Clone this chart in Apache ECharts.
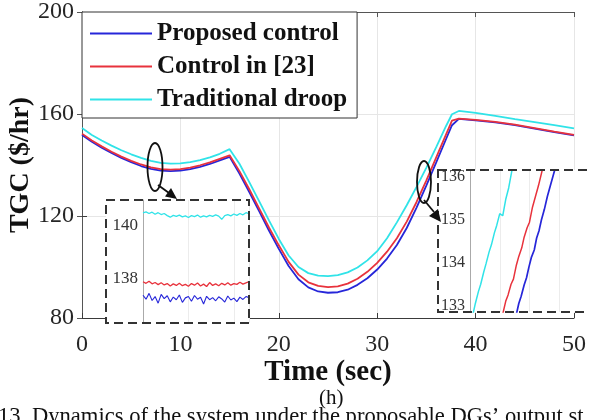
<!DOCTYPE html>
<html>
<head>
<meta charset="utf-8">
<script src="https://cdn.jsdelivr.net/npm/echarts@6/dist/echarts.min.js"></script>
<style>
  html, body { margin: 0; padding: 0; background: #fff; }
  #main { width: 589px; height: 420px; }
</style>
</head>
<body>
<div id="main"></div>
<script>
// main curves (time in sec, TGC in $/hr)
var times = [0, 1, 2, 3, 4, 5, 6, 7, 8, 9, 10, 11, 12, 13, 14, 15,
  16, 17, 18, 19, 20, 21, 22, 23, 24, 25, 26, 27, 28, 29, 30, 31, 32, 33, 34, 35, 36, 37,
  37.6, 38.3, 40, 42, 44, 46, 48, 50];
var proposed = [151.8, 149.1, 146.8, 144.7, 142.8, 141.1, 139.6, 138.5, 137.8, 137.6, 137.8, 138.4, 139.3, 140.4, 141.8, 143.2,
  136.6, 129.4, 121.9, 114.3, 107.1, 100.4, 95.2, 92, 90.4, 89.9, 90.1, 91.1, 93, 95.6, 99, 103.3, 108.6, 115.3, 123.3, 132, 141, 150.2,
  155.6, 158.1, 157.5, 156.7, 155.6, 154.3, 152.9, 151.6];
var ref23 = [152.3, 149.6, 147.3, 145.2, 143.3, 141.6, 140.2, 139.1, 138.4, 138.2, 138.4, 139.0, 139.9, 141.0, 142.4, 143.8,
  137.6, 130.5, 123, 115.5, 108.5, 102, 97, 94, 92.6, 92.1, 92.4, 93.5, 95.4, 98.1, 101.6, 106, 111.3, 117.8, 125.5, 134, 143, 152,
  157.4, 158.2, 157.7, 156.9, 155.8, 154.5, 153.1, 151.8];
var droop = [154.5, 151.8, 149.6, 147.6, 145.8, 144.2, 142.8, 141.6, 140.8, 140.5, 140.6, 141.1, 141.9, 143.0, 144.4, 146.2,
  140.5, 133.3, 125.8, 118.3, 111, 104.5, 100, 97.6, 96.6, 96.4, 96.8, 97.9, 99.8, 102.6, 106.2, 111.3, 117.5, 124.2, 131.4, 139, 147, 155.3,
  159.9, 161.2, 160.4, 159.3, 158, 156.8, 155.6, 154.4];

// left zoom (steady part around t = 8 s)
var zoomLeftT = [6.0, 6.1, 6.2, 6.3, 6.4, 6.5, 6.6, 6.7, 6.8, 6.9, 7.0, 7.1, 7.2, 7.3, 7.4, 7.5, 7.6, 7.7,
  7.8, 7.9, 8.0, 8.1, 8.2, 8.3, 8.4, 8.5, 8.6, 8.7, 8.8, 8.9, 9.0, 9.1, 9.2, 9.3, 9.4, 9.5];
var zoomLeftDroop = [140.46, 140.50, 140.44, 140.49, 140.41, 140.47, 140.40, 140.44, 140.36, 140.30, 140.37, 140.33, 140.38, 140.31, 140.35, 140.29, 140.36, 140.32,
  140.38, 140.30, 140.35, 140.31, 140.37, 140.33, 140.39, 140.34, 140.22, 140.36, 140.40, 140.35, 140.42, 140.37, 140.44, 140.39, 140.47, 140.43];
var zoomLeftRef = [137.86, 137.80, 137.88, 137.78, 137.83, 137.75, 137.82, 137.74, 137.79, 137.70, 137.78, 137.72, 137.80, 137.71, 137.76, 137.69, 137.79, 137.73,
  137.81, 137.70, 137.77, 137.68, 137.83, 137.72, 137.78, 137.71, 137.80, 137.74, 137.82, 137.73, 137.79, 137.76, 137.84, 137.77, 137.82, 137.86];
var zoomLeftProp = [137.35, 137.20, 137.42, 137.15, 137.30, 137.05, 137.38, 137.22, 137.33, 137.10, 137.28, 137.18, 137.36, 137.08, 137.25, 137.30, 137.12, 137.34,
  137.20, 137.27, 137.02, 137.31, 137.18, 137.26, 137.14, 137.29, 137.21, 137.09, 137.32, 137.17, 137.24, 137.11, 137.28, 137.19, 137.30, 137.26];

// right zoom (rising part around t = 34.5 s)
var zoomRightDroopT = [34.05, 34.09, 34.14, 34.18, 34.23, 34.27, 34.32, 34.36, 34.41, 34.45, 34.50, 34.55, 34.60, 34.65, 34.71];
var zoomRightDroopV = [132.80, 133.05, 133.32, 133.50, 133.78, 133.98, 134.25, 134.42, 134.70, 134.88, 135.15, 135.10, 135.48, 135.75, 136.20];
var zoomRightRefT = [34.55, 34.60, 34.64, 34.69, 34.73, 34.78, 34.82, 34.87, 34.91, 34.96, 35.00, 35.05, 35.10, 35.15, 35.22];
var zoomRightRefV = [132.80, 133.10, 133.25, 133.50, 133.62, 133.95, 134.15, 134.35, 134.60, 134.82, 134.95, 135.30, 135.55, 135.80, 136.20];
var zoomRightPropT = [34.78, 34.82, 34.86, 34.91, 34.95, 34.99, 35.03, 35.08, 35.12, 35.16, 35.20, 35.25, 35.30, 35.35, 35.43];
var zoomRightPropV = [132.80, 133.05, 133.22, 133.48, 133.65, 133.90, 134.12, 134.30, 134.58, 134.75, 135.00, 135.25, 135.55, 135.80, 136.20];

var names = ['Proposed control', 'Control in [23]', 'Traditional droop'];
var colors = ['#2626d9', '#e8323c', '#30e3e8'];

function pairs(t, v) {
  return t.map(function (x, i) { return [x, v[i]]; });
}

var serif = 'Liberation Serif';
var axisColor = '#3a3a3a';

var chart = echarts.init(document.getElementById('main'));

function line(name, idx, t, v, color, w, z) {
  return {
    name: name,
    type: 'line',
    xAxisIndex: idx,
    yAxisIndex: idx,
    data: pairs(t, v),
    symbol: 'none',
    clip: true,
    z: z,
    lineStyle: { color: color, width: w },
    itemStyle: { color: color },
    animation: false
  };
}

chart.setOption({
  animation: false,
  backgroundColor: '#fff',
  grid: [
    { left: 82, top: 12, width: 492, height: 306, outerBoundsMode: 'none' },
    { left: 143, top: 200, width: 106, height: 123, outerBoundsMode: 'none' },
    { left: 470, top: 170, right: 0, height: 142, outerBoundsMode: 'none' }
  ],
  legend: {
    data: names,
    orient: 'vertical',
    left: 82,
    top: 12,
    padding: [9, 10, 6, 8],
    itemGap: 8,
    itemWidth: 62,
    itemHeight: 2,
    icon: 'rect',
    backgroundColor: '#fff',
    borderColor: '#333',
    borderWidth: 1,
    z: 6,
    textStyle: { fontFamily: serif, fontWeight: 'bold', fontSize: 25, color: '#111' }
  },
  xAxis: [
    {
      type: 'value', gridIndex: 0, min: 0, max: 50, interval: 10,
      name: 'Time (sec)', nameLocation: 'middle', nameGap: 40, nameMoveOverlap: false,
      nameTextStyle: { fontFamily: serif, fontWeight: 'bold', fontSize: 29, color: '#111' },
      axisLine: { lineStyle: { color: axisColor } },
      axisTick: { inside: true, length: 5, lineStyle: { color: axisColor } },
      axisLabel: { fontFamily: serif, fontSize: 24, color: '#262626', margin: 15 },
      splitLine: { show: true, lineStyle: { color: '#e6e6e6' } }
    },
    {
      type: 'value', gridIndex: 0, min: 0, max: 50, interval: 10, position: 'top',
      axisLine: { lineStyle: { color: '#555' } },
      axisTick: { inside: true, length: 5, lineStyle: { color: '#555' } },
      axisLabel: { show: false },
      splitLine: { show: false }
    },
    {
      type: 'value', gridIndex: 1, min: 6, max: 9.5, interval: 1.5, z: 5,
      axisLine: { show: false }, axisTick: { show: false }, axisLabel: { show: false },
      splitLine: { show: true, lineStyle: { color: '#ececec' } }
    },
    {
      type: 'value', gridIndex: 2, min: 34, max: 36, interval: 0.5, z: 5,
      axisLine: { show: false }, axisTick: { show: false }, axisLabel: { show: false },
      splitLine: { show: true, lineStyle: { color: '#ececec' } }
    }
  ],
  yAxis: [
    {
      type: 'value', gridIndex: 0, min: 80, max: 200, interval: 40,
      name: 'TGC ($/hr)', nameLocation: 'middle', nameGap: 47, nameMoveOverlap: false,
      nameTextStyle: { fontFamily: serif, fontWeight: 'bold', fontSize: 28, color: '#111' },
      axisLine: { show: true, lineStyle: { color: axisColor } },
      axisTick: { show: true, inside: true, length: 5, lineStyle: { color: axisColor } },
      axisLabel: { fontFamily: serif, fontSize: 24, color: '#262626', margin: 8 },
      splitLine: { show: true, lineStyle: { color: '#e6e6e6' } }
    },
    {
      type: 'value', gridIndex: 0, min: 80, max: 200, interval: 40, position: 'right',
      axisLine: { show: true, lineStyle: { color: '#555' } },
      axisTick: { show: true, inside: true, length: 5, lineStyle: { color: '#555' } },
      axisLabel: { show: false },
      splitLine: { show: false }
    },
    {
      type: 'value', gridIndex: 1, min: 136.3, max: 140.95, z: 5,
      axisLine: { show: true, lineStyle: { color: '#aaa' } },
      axisTick: { show: false },
      axisLabel: { fontFamily: serif, fontSize: 17, color: '#333', margin: 5, customValues: [138, 140] },
      splitLine: { show: false }
    },
    {
      type: 'value', gridIndex: 2, min: 132.85, max: 136.17, z: 5,
      axisLine: { show: true, lineStyle: { color: '#aaa' } },
      axisTick: { show: false },
      axisLabel: { fontFamily: serif, fontSize: 16, color: '#333', margin: 5, customValues: [133, 134, 135, 136] },
      splitLine: { show: false }
    }
  ],
  series: [
    line(names[0], 0, times, proposed, colors[0], 1.8, 2),
    line(names[1], 0, times, ref23, colors[1], 1.8, 2),
    line(names[2], 0, times, droop, colors[2], 1.8, 2),
    line(names[2], 2, zoomLeftT, zoomLeftDroop, colors[2], 1.3, 5),
    line(names[1], 2, zoomLeftT, zoomLeftRef, colors[1], 1.3, 5),
    line(names[0], 2, zoomLeftT, zoomLeftProp, colors[0], 1.1, 5),
    line(names[2], 3, zoomRightDroopT, zoomRightDroopV, colors[2], 1.5, 5),
    line(names[1], 3, zoomRightRefT, zoomRightRefV, colors[1], 1.5, 5),
    line(names[0], 3, zoomRightPropT, zoomRightPropV, colors[0], 1.7, 5)
  ],
  graphic: [
    // inset backgrounds
    { type: 'rect', z: 3, shape: { x: 106, y: 200, width: 143, height: 123 }, style: { fill: '#fff' } },
    { type: 'rect', z: 3, shape: { x: 438, y: 170, width: 170, height: 142 }, style: { fill: '#fff' } },
    // dashed frames
    { type: 'rect', z: 10, shape: { x: 106, y: 200, width: 143, height: 123 },
      style: { fill: null, stroke: '#333', lineWidth: 2, lineDash: [9, 5] } },
    { type: 'rect', z: 10, shape: { x: 438, y: 170, width: 170, height: 142 },
      style: { fill: null, stroke: '#333', lineWidth: 2, lineDash: [9, 5] } },
    // ellipses + arrows
    { type: 'ellipse', z: 10, shape: { cx: 155, cy: 167, rx: 7.5, ry: 24 },
      style: { fill: null, stroke: '#111', lineWidth: 1.8 } },
    { type: 'line', z: 10, shape: { x1: 158, y1: 185, x2: 169, y2: 193 }, style: { stroke: '#111', lineWidth: 1.8 } },
    { type: 'polygon', z: 10, shape: { points: [[177, 199], [165, 196.5], [171, 188]] }, style: { fill: '#111' } },
    { type: 'ellipse', z: 10, shape: { cx: 424, cy: 182, rx: 7, ry: 21 },
      style: { fill: null, stroke: '#111', lineWidth: 1.8 } },
    { type: 'line', z: 10, shape: { x1: 424, y1: 200, x2: 434, y2: 212 }, style: { stroke: '#111', lineWidth: 1.8 } },
    { type: 'polygon', z: 10, shape: { points: [[441, 222], [429, 216], [438, 209]] }, style: { fill: '#111' } },
    // caption
    { type: 'text', z: 10, left: 319, top: 388,
      style: { text: '(h)', font: '21px "Liberation Serif"', fill: '#111' } },
    { type: 'text', z: 10, left: -2, top: 406,
      style: { text: '13. Dynamics of the system under the proposable DGs\u2019 output st', font: '22.6px "Liberation Serif"', fill: '#111' } }
  ]
});
</script>
</body>
</html>
